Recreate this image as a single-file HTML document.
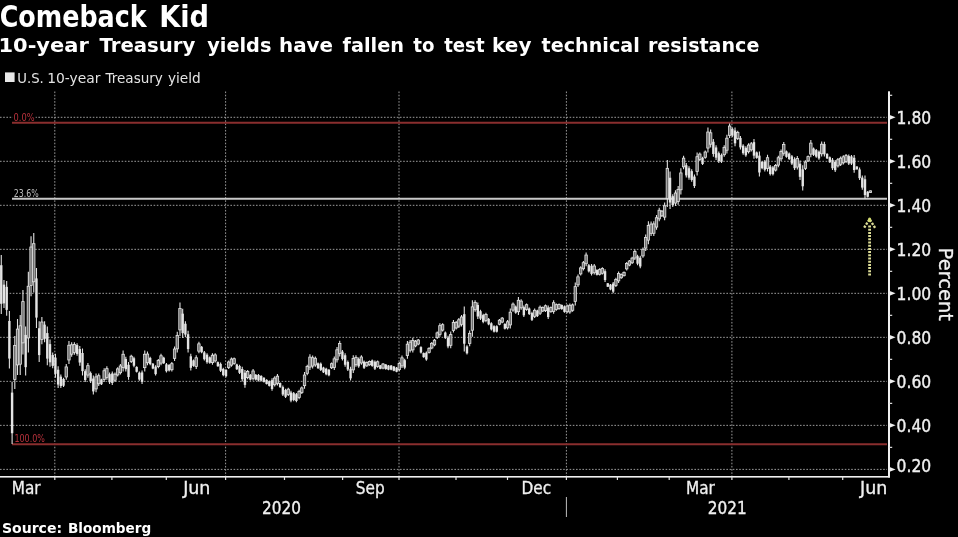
<!DOCTYPE html>
<html><head><meta charset="utf-8"><title>Comeback Kid</title><style>
html,body{margin:0;padding:0;background:#000;}
body{width:958px;height:537px;overflow:hidden;position:relative;font-family:"DejaVu Sans","Liberation Sans",sans-serif;}
</style></head><body>
<svg width="958" height="537" viewBox="0 0 958 537" style="position:absolute;left:0;top:0">
<rect width="958" height="537" fill="#000"/>
<line x1="0" y1="117.30" x2="887" y2="117.30" stroke="#9a9a9a" stroke-width="1" stroke-dasharray="1.6 1.6"/>
<line x1="0" y1="161.31" x2="887" y2="161.31" stroke="#9a9a9a" stroke-width="1" stroke-dasharray="1.6 1.6"/>
<line x1="0" y1="205.32" x2="887" y2="205.32" stroke="#9a9a9a" stroke-width="1" stroke-dasharray="1.6 1.6"/>
<line x1="0" y1="249.33" x2="887" y2="249.33" stroke="#9a9a9a" stroke-width="1" stroke-dasharray="1.6 1.6"/>
<line x1="0" y1="293.34" x2="887" y2="293.34" stroke="#9a9a9a" stroke-width="1" stroke-dasharray="1.6 1.6"/>
<line x1="0" y1="337.35" x2="887" y2="337.35" stroke="#9a9a9a" stroke-width="1" stroke-dasharray="1.6 1.6"/>
<line x1="0" y1="381.36" x2="887" y2="381.36" stroke="#9a9a9a" stroke-width="1" stroke-dasharray="1.6 1.6"/>
<line x1="0" y1="425.37" x2="887" y2="425.37" stroke="#9a9a9a" stroke-width="1" stroke-dasharray="1.6 1.6"/>
<line x1="0" y1="469.38" x2="887" y2="469.38" stroke="#9a9a9a" stroke-width="1" stroke-dasharray="1.6 1.6"/>
<line x1="54.8" y1="91.5" x2="54.8" y2="476" stroke="#9a9a9a" stroke-width="1" stroke-dasharray="1.6 1.6"/>
<line x1="225.6" y1="91.5" x2="225.6" y2="476" stroke="#9a9a9a" stroke-width="1" stroke-dasharray="1.6 1.6"/>
<line x1="399" y1="91.5" x2="399" y2="476" stroke="#9a9a9a" stroke-width="1" stroke-dasharray="1.6 1.6"/>
<line x1="566.4" y1="91.5" x2="566.4" y2="476" stroke="#9a9a9a" stroke-width="1" stroke-dasharray="1.6 1.6"/>
<line x1="731.9" y1="91.5" x2="731.9" y2="476" stroke="#9a9a9a" stroke-width="1" stroke-dasharray="1.6 1.6"/>
<line x1="12" y1="122.8" x2="887" y2="122.8" stroke="#8a2e2e" stroke-width="2"/>
<line x1="12" y1="444.3" x2="887" y2="444.3" stroke="#8a2e2e" stroke-width="2"/>
<line x1="12" y1="198.8" x2="887" y2="198.8" stroke="#c8c8c8" stroke-width="2"/>
<rect x="12.6" y="111.4" width="23" height="9.6" fill="#000"/>
<text x="13.5" y="120.6" font-family="DejaVu Sans Condensed, DejaVu Sans, sans-serif" font-size="11" fill="#b8323c" textLength="21" lengthAdjust="spacingAndGlyphs">0.0%</text>
<text x="13.8" y="196.8" font-family="DejaVu Sans Condensed, DejaVu Sans, sans-serif" font-size="11" fill="#bdbdbd" textLength="25" lengthAdjust="spacingAndGlyphs">23.6%</text>
<text x="14.4" y="442.3" font-family="DejaVu Sans Condensed, DejaVu Sans, sans-serif" font-size="11" fill="#b8323c" textLength="30.5" lengthAdjust="spacingAndGlyphs">100.0%</text>
<path d="M1.27 255.00V314.00M3.98 280.00V308.00M6.68 281.00V315.70M9.39 311.00V368.50M12.10 381.80V444.00M14.81 336.00V389.00M17.52 319.00V375.00M20.22 315.00V375.00M22.93 290.00V354.50M25.64 326.50V375.60M28.35 271.70V352.50M31.05 236.20V296.30M33.76 233.00V292.50M36.47 268.00V328.00M39.18 321.30V362.00M41.88 317.10V344.30M44.59 321.30V342.20M47.30 326.50V365.20M50.01 339.60V366.80M52.71 352.60V368.30M55.42 353.70V377.70M58.13 366.20V388.10M60.84 374.60V388.10M63.54 377.70V387.00M66.25 364.10V379.80M68.96 341.10V364.10M71.67 342.20V356.80M74.37 342.20V354.70M77.08 343.20V355.80M79.79 345.90V365.70M82.50 348.50V375.60M85.21 369.30V381.90M87.91 363.00V377.70M90.62 371.40V382.90M93.33 375.60V394.40M96.04 373.50V392.30M98.74 373.50V386.00M101.45 378.70V385.00M104.16 368.30V381.90M106.87 366.20V379.80M109.57 372.50V383.90M112.28 371.40V385.00M114.99 372.50V381.90M117.70 367.20V376.60M120.40 364.10V374.60M123.11 350.50V371.40M125.82 356.80V371.40M128.53 362.00V379.80M131.23 354.70V363.00M133.94 356.80V367.20M136.65 366.20V372.50M139.36 371.40V380.80M142.06 370.40V383.90M144.77 350.50V371.40M147.48 351.60V365.20M150.19 356.80V365.20M152.90 363.00V369.30M155.60 365.20V375.60M158.31 358.90V368.30M161.02 353.70V365.20M163.73 356.80V364.10M166.43 363.00V372.50M169.14 364.10V371.40M171.85 362.00V371.40M174.56 346.40V361.00M177.26 331.80V352.60M179.97 302.50V335.90M182.68 308.80V338.00M185.39 321.30V337.00M188.09 330.70V352.60M190.80 353.70V370.40M193.51 359.50V366.80M196.22 355.30V368.90M198.92 341.80V353.20M201.63 345.90V353.20M204.34 351.10V360.50M207.05 353.20V363.70M209.75 356.40V363.70M212.46 353.20V364.70M215.17 353.20V362.60M217.88 361.60V366.80M220.59 362.60V372.00M223.29 367.80V376.20M226.00 368.90V377.20M228.71 360.50V368.90M231.42 357.40V366.80M234.12 357.40V364.70M236.83 363.70V370.00M239.54 364.70V374.10M242.25 366.80V381.40M244.95 369.90V387.70M247.66 369.90V379.30M250.37 374.10V380.40M253.08 368.90V380.40M255.78 374.10V380.40M258.49 374.10V381.40M261.20 375.20V381.40M263.91 377.20V382.50M266.61 379.30V384.60M269.32 380.40V386.60M272.03 378.30V390.80M274.74 376.20V386.60M277.44 374.10V385.60M280.15 382.50V387.70M282.86 385.60V396.00M285.57 388.70V398.10M288.28 387.70V396.00M290.98 390.80V402.30M293.69 391.90V401.30M296.40 392.90V402.30M299.11 389.80V399.20M301.81 386.60V393.90M304.52 372.00V388.70M307.23 364.70V375.20M309.94 354.30V369.90M312.64 355.40V368.40M315.35 356.40V366.80M318.06 362.60V368.90M320.77 362.60V371.00M323.47 366.80V373.10M326.18 367.80V375.20M328.89 368.90V376.20M331.60 362.60V368.90M334.30 356.40V370.00M337.01 347.00V362.60M339.72 340.70V356.40M342.43 350.10V360.50M345.13 353.20V366.80M347.84 360.50V371.00M350.55 366.80V380.40M353.26 355.30V373.10M355.97 355.30V366.80M358.67 357.40V367.80M361.38 355.30V364.70M364.09 360.50V368.90M366.80 361.60V366.80M369.50 360.50V365.70M372.21 359.50V366.80M374.92 360.50V370.00M377.63 360.50V367.80M380.33 365.00V369.20M383.04 362.90V369.20M385.75 363.90V369.70M388.46 365.00V370.20M391.16 365.00V370.20M393.87 366.00V371.30M396.58 367.10V372.30M399.29 361.90V371.30M401.99 355.60V368.10M404.70 358.70V369.20M407.41 341.00V358.70M410.12 339.90V352.50M412.82 337.80V352.50M415.53 339.90V347.20M418.24 338.90V345.20M420.95 346.20V353.50M423.66 352.50V357.70M426.36 351.40V360.80M429.07 347.20V353.50M431.78 342.00V349.30M434.49 338.90V346.20M437.19 331.60V338.90M439.90 323.20V336.80M442.61 323.20V331.60M445.32 331.60V338.90M448.02 335.80V348.30M450.73 331.60V348.30M453.44 320.10V332.60M456.15 321.10V329.50M458.85 318.00V327.90M461.56 314.90V326.40M464.27 306.50V351.40M466.98 345.20V354.60M469.68 330.50V346.20M472.39 300.30V336.80M475.10 300.30V311.80M477.81 302.40V319.10M480.51 309.70V320.10M483.22 313.80V323.20M485.93 312.80V322.20M488.64 318.00V325.30M491.35 322.20V330.50M494.05 325.30V332.60M496.76 325.30V332.60M499.47 319.10V325.30M502.18 317.00V323.20M504.88 323.20V329.50M507.59 320.10V329.50M510.30 308.60V328.50M513.01 302.40V311.80M515.71 305.50V313.80M518.42 297.10V314.90M521.13 299.20V309.70M523.84 305.50V317.00M526.54 303.40V310.70M529.25 307.60V314.90M531.96 311.80V321.10M534.67 308.60V318.00M537.37 309.70V317.00M540.08 305.50V314.90M542.79 306.50V312.00M545.50 304.40V312.00M548.20 305.50V319.10M550.91 306.50V312.80M553.62 300.30V313.80M556.33 303.40V310.70M559.04 303.40V309.70M561.74 304.40V309.70M564.45 305.50V312.80M567.16 304.40V313.30M569.87 303.40V313.80M572.57 303.40V311.80M575.28 282.50V305.50M577.99 274.60V287.10M580.70 266.20V275.60M583.40 261.00V270.40M586.11 252.60V266.20M588.82 264.10V272.50M591.53 264.10V275.60M594.23 264.10V274.60M596.94 269.30V275.60M599.65 268.30V275.60M602.36 267.20V274.60M605.06 269.30V281.90M607.77 282.90V287.10M610.48 283.90V290.20M613.19 281.90V293.30M615.89 277.70V287.10M618.60 271.40V282.90M621.31 273.50V278.70M624.02 271.40V276.60M626.73 262.00V270.40M629.43 259.90V266.20M632.14 256.80V264.10M634.85 249.50V259.90M637.56 254.70V265.20M640.26 255.80V268.30M642.97 247.40V257.80M645.68 234.40V251.10M648.39 221.30V244.30M651.09 221.50V235.90M653.80 221.30V235.90M656.51 215.10V229.70M659.22 207.80V221.30M661.92 209.90V217.10M664.63 202.60V220.30M667.34 159.90V206.90M670.05 171.40V208.90M672.75 194.30V206.90M675.46 190.20V205.90M678.17 186.00V204.80M680.88 168.20V194.50M683.58 155.70V169.30M686.29 163.00V177.60M689.00 166.20V179.70M691.71 169.30V181.80M694.42 174.50V188.10M697.12 152.60V175.50M699.83 152.60V160.90M702.54 156.80V165.10M705.25 150.50V158.80M707.95 127.50V152.60M710.66 129.60V147.40M713.37 139.00V156.80M716.08 145.20V159.90M718.78 151.50V163.00M721.49 153.60V163.00M724.20 145.30V156.80M726.91 134.80V153.60M729.61 123.40V138.00M732.32 127.50V136.90M735.03 127.50V146.30M737.74 130.70V140.10M740.44 135.90V149.40M743.15 144.20V154.70M745.86 146.30V156.80M748.57 143.20V153.60M751.27 142.10V151.50M753.98 139.00V158.80M756.69 151.50V158.80M759.40 151.50V176.60M762.11 160.90V169.30M764.81 159.90V171.40M767.52 154.70V171.40M770.23 165.10V175.50M772.94 166.10V175.50M775.64 164.10V171.40M778.35 155.70V167.20M781.06 149.40V160.90M783.77 142.10V155.70M786.47 150.50V157.80M789.18 152.60V159.90M791.89 154.90V165.00M794.60 157.20V170.10M797.30 156.00V169.50M800.01 160.60V179.90M802.72 165.20V190.40M805.43 160.30V170.10M808.13 155.40V162.10M810.84 140.00V157.20M813.55 147.40V156.00M816.26 148.90V157.80M818.96 150.40V159.70M821.67 141.50V156.50M824.38 141.80V156.50M827.09 153.20V159.00M829.80 156.50V163.00M832.50 158.00V170.00M835.21 160.00V172.00M837.92 158.00V167.60M840.63 156.50V166.00M843.33 155.20V164.50M846.04 154.00V163.00M848.75 154.60V165.00M851.46 155.00V165.00M854.16 155.00V172.80M856.87 166.30V169.60M859.58 167.60V180.00M862.29 175.40V189.80M864.99 175.40V198.90M867.70 191.00V197.60M870.41 190.40V193.00" stroke="#e0e0e0" stroke-width="1.1" fill="none"/>
<rect x="0.07" y="265.22" width="2.4" height="38.56" fill="#e4e4e4"/><rect x="2.78" y="284.64" width="2.4" height="18.72" fill="#e4e4e4"/><rect x="5.48" y="286.85" width="2.4" height="23.01" fill="#e4e4e4"/><rect x="8.19" y="320.95" width="2.4" height="37.60" fill="#e4e4e4"/><rect x="10.90" y="392.60" width="2.4" height="40.61" fill="#e4e4e4"/><rect x="13.61" y="345.54" width="2.4" height="33.92" fill="#6e6e6e" stroke="#e4e4e4" stroke-width="0.8"/><rect x="16.32" y="329.08" width="2.4" height="35.84" fill="#6e6e6e" stroke="#e4e4e4" stroke-width="0.8"/><rect x="19.02" y="325.80" width="2.4" height="38.40" fill="#6e6e6e" stroke="#e4e4e4" stroke-width="0.8"/><rect x="21.73" y="301.61" width="2.4" height="41.28" fill="#6e6e6e" stroke="#e4e4e4" stroke-width="0.8"/><rect x="24.44" y="334.94" width="2.4" height="32.22" fill="#e4e4e4"/><rect x="27.15" y="286.24" width="2.4" height="51.71" fill="#6e6e6e" stroke="#e4e4e4" stroke-width="0.8"/><rect x="29.85" y="247.02" width="2.4" height="38.46" fill="#6e6e6e" stroke="#e4e4e4" stroke-width="0.8"/><rect x="32.56" y="243.71" width="2.4" height="38.08" fill="#6e6e6e" stroke="#e4e4e4" stroke-width="0.8"/><rect x="35.27" y="278.40" width="2.4" height="39.20" fill="#e4e4e4"/><rect x="37.98" y="328.23" width="2.4" height="26.85" fill="#e4e4e4"/><rect x="40.68" y="322.00" width="2.4" height="17.41" fill="#6e6e6e" stroke="#e4e4e4" stroke-width="0.8"/><rect x="43.39" y="324.66" width="2.4" height="14.18" fill="#e4e4e4"/><rect x="46.10" y="333.07" width="2.4" height="25.57" fill="#e4e4e4"/><rect x="48.81" y="344.10" width="2.4" height="18.21" fill="#e4e4e4"/><rect x="51.51" y="355.03" width="2.4" height="10.85" fill="#e4e4e4"/><rect x="54.22" y="357.62" width="2.4" height="16.16" fill="#e4e4e4"/><rect x="56.93" y="369.74" width="2.4" height="14.82" fill="#e4e4e4"/><rect x="59.64" y="376.63" width="2.4" height="9.44" fill="#e4e4e4"/><rect x="62.34" y="378.97" width="2.4" height="6.75" fill="#e4e4e4"/><rect x="65.05" y="366.93" width="2.4" height="10.05" fill="#6e6e6e" stroke="#e4e4e4" stroke-width="0.8"/><rect x="67.76" y="345.24" width="2.4" height="14.72" fill="#6e6e6e" stroke="#e4e4e4" stroke-width="0.8"/><rect x="70.47" y="344.83" width="2.4" height="9.34" fill="#6e6e6e" stroke="#e4e4e4" stroke-width="0.8"/><rect x="73.17" y="344.45" width="2.4" height="8.00" fill="#6e6e6e" stroke="#e4e4e4" stroke-width="0.8"/><rect x="75.88" y="345.07" width="2.4" height="8.86" fill="#e4e4e4"/><rect x="78.59" y="349.06" width="2.4" height="13.47" fill="#e4e4e4"/><rect x="81.30" y="352.98" width="2.4" height="18.14" fill="#e4e4e4"/><rect x="84.01" y="371.17" width="2.4" height="8.86" fill="#e4e4e4"/><rect x="86.71" y="365.65" width="2.4" height="9.41" fill="#6e6e6e" stroke="#e4e4e4" stroke-width="0.8"/><rect x="89.42" y="373.07" width="2.4" height="8.16" fill="#e4e4e4"/><rect x="92.13" y="378.58" width="2.4" height="12.83" fill="#e4e4e4"/><rect x="94.84" y="376.88" width="2.4" height="12.03" fill="#6e6e6e" stroke="#e4e4e4" stroke-width="0.8"/><rect x="97.54" y="375.75" width="2.4" height="8.00" fill="#6e6e6e" stroke="#e4e4e4" stroke-width="0.8"/><rect x="100.25" y="379.43" width="2.4" height="4.83" fill="#e4e4e4"/><rect x="102.96" y="370.75" width="2.4" height="8.70" fill="#6e6e6e" stroke="#e4e4e4" stroke-width="0.8"/><rect x="105.67" y="368.65" width="2.4" height="8.70" fill="#6e6e6e" stroke="#e4e4e4" stroke-width="0.8"/><rect x="108.37" y="374.15" width="2.4" height="8.10" fill="#e4e4e4"/><rect x="111.08" y="373.45" width="2.4" height="9.50" fill="#e4e4e4"/><rect x="113.79" y="374.19" width="2.4" height="6.02" fill="#6e6e6e" stroke="#e4e4e4" stroke-width="0.8"/><rect x="116.50" y="368.89" width="2.4" height="6.02" fill="#6e6e6e" stroke="#e4e4e4" stroke-width="0.8"/><rect x="119.20" y="365.99" width="2.4" height="6.72" fill="#6e6e6e" stroke="#e4e4e4" stroke-width="0.8"/><rect x="121.91" y="354.26" width="2.4" height="13.38" fill="#6e6e6e" stroke="#e4e4e4" stroke-width="0.8"/><rect x="124.62" y="359.03" width="2.4" height="10.14" fill="#e4e4e4"/><rect x="127.33" y="364.80" width="2.4" height="12.19" fill="#e4e4e4"/><rect x="130.03" y="356.19" width="2.4" height="5.31" fill="#6e6e6e" stroke="#e4e4e4" stroke-width="0.8"/><rect x="132.74" y="358.27" width="2.4" height="7.46" fill="#e4e4e4"/><rect x="135.45" y="366.93" width="2.4" height="4.83" fill="#e4e4e4"/><rect x="138.16" y="372.69" width="2.4" height="6.82" fill="#e4e4e4"/><rect x="140.86" y="372.43" width="2.4" height="9.44" fill="#e4e4e4"/><rect x="143.57" y="354.26" width="2.4" height="13.38" fill="#6e6e6e" stroke="#e4e4e4" stroke-width="0.8"/><rect x="146.28" y="354.05" width="2.4" height="8.70" fill="#6e6e6e" stroke="#e4e4e4" stroke-width="0.8"/><rect x="148.99" y="357.91" width="2.4" height="6.18" fill="#e4e4e4"/><rect x="151.70" y="363.73" width="2.4" height="4.83" fill="#e4e4e4"/><rect x="154.40" y="366.67" width="2.4" height="7.46" fill="#e4e4e4"/><rect x="157.11" y="360.59" width="2.4" height="6.02" fill="#6e6e6e" stroke="#e4e4e4" stroke-width="0.8"/><rect x="159.82" y="355.77" width="2.4" height="7.36" fill="#6e6e6e" stroke="#e4e4e4" stroke-width="0.8"/><rect x="162.53" y="357.71" width="2.4" height="5.47" fill="#e4e4e4"/><rect x="165.23" y="364.31" width="2.4" height="6.88" fill="#e4e4e4"/><rect x="167.94" y="365.01" width="2.4" height="5.47" fill="#e4e4e4"/><rect x="170.65" y="363.69" width="2.4" height="6.02" fill="#6e6e6e" stroke="#e4e4e4" stroke-width="0.8"/><rect x="173.36" y="349.03" width="2.4" height="9.34" fill="#6e6e6e" stroke="#e4e4e4" stroke-width="0.8"/><rect x="176.06" y="335.54" width="2.4" height="13.31" fill="#6e6e6e" stroke="#e4e4e4" stroke-width="0.8"/><rect x="178.77" y="308.51" width="2.4" height="21.38" fill="#6e6e6e" stroke="#e4e4e4" stroke-width="0.8"/><rect x="181.48" y="313.66" width="2.4" height="19.49" fill="#e4e4e4"/><rect x="184.19" y="323.73" width="2.4" height="10.85" fill="#e4e4e4"/><rect x="186.89" y="334.24" width="2.4" height="14.82" fill="#e4e4e4"/><rect x="189.60" y="356.31" width="2.4" height="11.49" fill="#e4e4e4"/><rect x="192.31" y="360.41" width="2.4" height="5.47" fill="#e4e4e4"/><rect x="195.02" y="357.75" width="2.4" height="8.70" fill="#6e6e6e" stroke="#e4e4e4" stroke-width="0.8"/><rect x="197.72" y="343.85" width="2.4" height="7.30" fill="#6e6e6e" stroke="#e4e4e4" stroke-width="0.8"/><rect x="200.43" y="346.81" width="2.4" height="5.47" fill="#e4e4e4"/><rect x="203.14" y="352.39" width="2.4" height="6.82" fill="#e4e4e4"/><rect x="205.85" y="354.69" width="2.4" height="7.52" fill="#e4e4e4"/><rect x="208.55" y="357.31" width="2.4" height="5.47" fill="#e4e4e4"/><rect x="211.26" y="355.27" width="2.4" height="7.36" fill="#6e6e6e" stroke="#e4e4e4" stroke-width="0.8"/><rect x="213.97" y="354.89" width="2.4" height="6.02" fill="#6e6e6e" stroke="#e4e4e4" stroke-width="0.8"/><rect x="216.68" y="362.14" width="2.4" height="4.13" fill="#e4e4e4"/><rect x="219.39" y="363.89" width="2.4" height="6.82" fill="#e4e4e4"/><rect x="222.09" y="368.91" width="2.4" height="6.18" fill="#e4e4e4"/><rect x="224.80" y="369.99" width="2.4" height="6.11" fill="#e4e4e4"/><rect x="227.51" y="362.01" width="2.4" height="5.38" fill="#6e6e6e" stroke="#e4e4e4" stroke-width="0.8"/><rect x="230.22" y="359.09" width="2.4" height="6.02" fill="#6e6e6e" stroke="#e4e4e4" stroke-width="0.8"/><rect x="232.92" y="358.71" width="2.4" height="4.67" fill="#6e6e6e" stroke="#e4e4e4" stroke-width="0.8"/><rect x="235.63" y="364.43" width="2.4" height="4.83" fill="#e4e4e4"/><rect x="238.34" y="365.99" width="2.4" height="6.82" fill="#e4e4e4"/><rect x="241.05" y="369.03" width="2.4" height="10.14" fill="#e4e4e4"/><rect x="243.75" y="372.70" width="2.4" height="12.19" fill="#e4e4e4"/><rect x="246.46" y="371.59" width="2.4" height="6.02" fill="#6e6e6e" stroke="#e4e4e4" stroke-width="0.8"/><rect x="249.17" y="374.83" width="2.4" height="4.83" fill="#e4e4e4"/><rect x="251.88" y="370.97" width="2.4" height="7.36" fill="#6e6e6e" stroke="#e4e4e4" stroke-width="0.8"/><rect x="254.58" y="374.83" width="2.4" height="4.83" fill="#e4e4e4"/><rect x="257.29" y="375.01" width="2.4" height="5.47" fill="#e4e4e4"/><rect x="260.00" y="375.92" width="2.4" height="4.77" fill="#e4e4e4"/><rect x="262.71" y="377.75" width="2.4" height="4.19" fill="#e4e4e4"/><rect x="265.41" y="379.85" width="2.4" height="4.19" fill="#e4e4e4"/><rect x="268.12" y="381.12" width="2.4" height="4.77" fill="#e4e4e4"/><rect x="270.83" y="380.15" width="2.4" height="8.80" fill="#e4e4e4"/><rect x="273.54" y="378.07" width="2.4" height="6.66" fill="#6e6e6e" stroke="#e4e4e4" stroke-width="0.8"/><rect x="276.24" y="376.17" width="2.4" height="7.36" fill="#6e6e6e" stroke="#e4e4e4" stroke-width="0.8"/><rect x="278.95" y="383.04" width="2.4" height="4.13" fill="#e4e4e4"/><rect x="281.66" y="387.07" width="2.4" height="7.46" fill="#e4e4e4"/><rect x="284.37" y="389.99" width="2.4" height="6.82" fill="#e4e4e4"/><rect x="287.08" y="389.19" width="2.4" height="5.31" fill="#6e6e6e" stroke="#e4e4e4" stroke-width="0.8"/><rect x="289.78" y="392.47" width="2.4" height="8.16" fill="#e4e4e4"/><rect x="292.49" y="393.19" width="2.4" height="6.82" fill="#e4e4e4"/><rect x="295.20" y="394.19" width="2.4" height="6.82" fill="#e4e4e4"/><rect x="297.91" y="391.49" width="2.4" height="6.02" fill="#6e6e6e" stroke="#e4e4e4" stroke-width="0.8"/><rect x="300.61" y="387.91" width="2.4" height="4.67" fill="#6e6e6e" stroke="#e4e4e4" stroke-width="0.8"/><rect x="303.32" y="375.01" width="2.4" height="10.69" fill="#6e6e6e" stroke="#e4e4e4" stroke-width="0.8"/><rect x="306.03" y="366.59" width="2.4" height="6.72" fill="#6e6e6e" stroke="#e4e4e4" stroke-width="0.8"/><rect x="308.74" y="357.11" width="2.4" height="9.98" fill="#6e6e6e" stroke="#e4e4e4" stroke-width="0.8"/><rect x="311.44" y="357.74" width="2.4" height="8.32" fill="#6e6e6e" stroke="#e4e4e4" stroke-width="0.8"/><rect x="314.15" y="358.27" width="2.4" height="6.66" fill="#6e6e6e" stroke="#e4e4e4" stroke-width="0.8"/><rect x="316.86" y="363.33" width="2.4" height="4.83" fill="#e4e4e4"/><rect x="319.57" y="363.71" width="2.4" height="6.18" fill="#e4e4e4"/><rect x="322.27" y="367.53" width="2.4" height="4.83" fill="#e4e4e4"/><rect x="324.98" y="368.73" width="2.4" height="5.54" fill="#e4e4e4"/><rect x="327.69" y="369.81" width="2.4" height="5.47" fill="#e4e4e4"/><rect x="330.40" y="363.73" width="2.4" height="4.03" fill="#6e6e6e" stroke="#e4e4e4" stroke-width="0.8"/><rect x="333.10" y="358.85" width="2.4" height="8.70" fill="#6e6e6e" stroke="#e4e4e4" stroke-width="0.8"/><rect x="335.81" y="349.81" width="2.4" height="9.98" fill="#6e6e6e" stroke="#e4e4e4" stroke-width="0.8"/><rect x="338.52" y="343.53" width="2.4" height="10.05" fill="#6e6e6e" stroke="#e4e4e4" stroke-width="0.8"/><rect x="341.23" y="351.57" width="2.4" height="7.46" fill="#e4e4e4"/><rect x="343.93" y="355.25" width="2.4" height="9.50" fill="#e4e4e4"/><rect x="346.64" y="361.99" width="2.4" height="7.52" fill="#e4e4e4"/><rect x="349.35" y="368.85" width="2.4" height="9.50" fill="#e4e4e4"/><rect x="352.06" y="358.50" width="2.4" height="11.39" fill="#6e6e6e" stroke="#e4e4e4" stroke-width="0.8"/><rect x="354.77" y="357.37" width="2.4" height="7.36" fill="#6e6e6e" stroke="#e4e4e4" stroke-width="0.8"/><rect x="357.47" y="358.87" width="2.4" height="7.46" fill="#e4e4e4"/><rect x="360.18" y="356.99" width="2.4" height="6.02" fill="#6e6e6e" stroke="#e4e4e4" stroke-width="0.8"/><rect x="362.89" y="361.61" width="2.4" height="6.18" fill="#e4e4e4"/><rect x="365.60" y="362.54" width="2.4" height="3.33" fill="#6e6e6e" stroke="#e4e4e4" stroke-width="0.8"/><rect x="368.30" y="361.44" width="2.4" height="3.33" fill="#6e6e6e" stroke="#e4e4e4" stroke-width="0.8"/><rect x="371.01" y="360.41" width="2.4" height="5.47" fill="#e4e4e4"/><rect x="373.72" y="361.81" width="2.4" height="6.88" fill="#e4e4e4"/><rect x="376.43" y="361.81" width="2.4" height="4.67" fill="#6e6e6e" stroke="#e4e4e4" stroke-width="0.8"/><rect x="379.13" y="365.36" width="2.4" height="3.49" fill="#e4e4e4"/><rect x="381.84" y="364.03" width="2.4" height="4.03" fill="#6e6e6e" stroke="#e4e4e4" stroke-width="0.8"/><rect x="384.55" y="364.54" width="2.4" height="4.51" fill="#e4e4e4"/><rect x="387.26" y="365.54" width="2.4" height="4.13" fill="#e4e4e4"/><rect x="389.96" y="365.54" width="2.4" height="4.13" fill="#e4e4e4"/><rect x="392.67" y="366.55" width="2.4" height="4.19" fill="#e4e4e4"/><rect x="395.38" y="367.64" width="2.4" height="4.13" fill="#e4e4e4"/><rect x="398.09" y="363.59" width="2.4" height="6.02" fill="#6e6e6e" stroke="#e4e4e4" stroke-width="0.8"/><rect x="400.79" y="357.85" width="2.4" height="8.00" fill="#6e6e6e" stroke="#e4e4e4" stroke-width="0.8"/><rect x="403.50" y="360.19" width="2.4" height="7.52" fill="#e4e4e4"/><rect x="406.21" y="344.19" width="2.4" height="11.33" fill="#6e6e6e" stroke="#e4e4e4" stroke-width="0.8"/><rect x="408.92" y="342.17" width="2.4" height="8.06" fill="#6e6e6e" stroke="#e4e4e4" stroke-width="0.8"/><rect x="411.62" y="340.45" width="2.4" height="9.41" fill="#6e6e6e" stroke="#e4e4e4" stroke-width="0.8"/><rect x="414.33" y="341.21" width="2.4" height="4.67" fill="#6e6e6e" stroke="#e4e4e4" stroke-width="0.8"/><rect x="417.04" y="340.03" width="2.4" height="4.03" fill="#6e6e6e" stroke="#e4e4e4" stroke-width="0.8"/><rect x="419.75" y="347.11" width="2.4" height="5.47" fill="#e4e4e4"/><rect x="422.46" y="353.04" width="2.4" height="4.13" fill="#e4e4e4"/><rect x="425.16" y="352.69" width="2.4" height="6.82" fill="#e4e4e4"/><rect x="427.87" y="348.33" width="2.4" height="4.03" fill="#6e6e6e" stroke="#e4e4e4" stroke-width="0.8"/><rect x="430.58" y="343.31" width="2.4" height="4.67" fill="#6e6e6e" stroke="#e4e4e4" stroke-width="0.8"/><rect x="433.29" y="340.21" width="2.4" height="4.67" fill="#6e6e6e" stroke="#e4e4e4" stroke-width="0.8"/><rect x="435.99" y="332.91" width="2.4" height="4.67" fill="#6e6e6e" stroke="#e4e4e4" stroke-width="0.8"/><rect x="438.70" y="325.65" width="2.4" height="8.70" fill="#6e6e6e" stroke="#e4e4e4" stroke-width="0.8"/><rect x="441.41" y="324.71" width="2.4" height="5.38" fill="#6e6e6e" stroke="#e4e4e4" stroke-width="0.8"/><rect x="444.12" y="332.51" width="2.4" height="5.47" fill="#e4e4e4"/><rect x="446.82" y="337.65" width="2.4" height="8.80" fill="#e4e4e4"/><rect x="449.53" y="334.61" width="2.4" height="10.69" fill="#6e6e6e" stroke="#e4e4e4" stroke-width="0.8"/><rect x="452.24" y="322.35" width="2.4" height="8.00" fill="#6e6e6e" stroke="#e4e4e4" stroke-width="0.8"/><rect x="454.95" y="322.61" width="2.4" height="5.38" fill="#6e6e6e" stroke="#e4e4e4" stroke-width="0.8"/><rect x="457.65" y="319.78" width="2.4" height="6.34" fill="#6e6e6e" stroke="#e4e4e4" stroke-width="0.8"/><rect x="460.36" y="316.97" width="2.4" height="7.36" fill="#6e6e6e" stroke="#e4e4e4" stroke-width="0.8"/><rect x="463.07" y="314.18" width="2.4" height="29.54" fill="#e4e4e4"/><rect x="465.78" y="346.49" width="2.4" height="6.82" fill="#e4e4e4"/><rect x="468.48" y="333.33" width="2.4" height="10.05" fill="#6e6e6e" stroke="#e4e4e4" stroke-width="0.8"/><rect x="471.19" y="306.87" width="2.4" height="23.36" fill="#6e6e6e" stroke="#e4e4e4" stroke-width="0.8"/><rect x="473.90" y="302.37" width="2.4" height="7.36" fill="#6e6e6e" stroke="#e4e4e4" stroke-width="0.8"/><rect x="476.61" y="305.01" width="2.4" height="11.49" fill="#e4e4e4"/><rect x="479.31" y="311.17" width="2.4" height="7.46" fill="#e4e4e4"/><rect x="482.02" y="315.09" width="2.4" height="6.82" fill="#e4e4e4"/><rect x="484.73" y="314.49" width="2.4" height="6.02" fill="#6e6e6e" stroke="#e4e4e4" stroke-width="0.8"/><rect x="487.44" y="318.91" width="2.4" height="5.47" fill="#e4e4e4"/><rect x="490.15" y="323.29" width="2.4" height="6.11" fill="#e4e4e4"/><rect x="492.85" y="326.21" width="2.4" height="5.47" fill="#e4e4e4"/><rect x="495.56" y="326.21" width="2.4" height="5.47" fill="#e4e4e4"/><rect x="498.27" y="320.22" width="2.4" height="3.97" fill="#6e6e6e" stroke="#e4e4e4" stroke-width="0.8"/><rect x="500.98" y="318.12" width="2.4" height="3.97" fill="#6e6e6e" stroke="#e4e4e4" stroke-width="0.8"/><rect x="503.68" y="323.93" width="2.4" height="4.83" fill="#e4e4e4"/><rect x="506.39" y="321.79" width="2.4" height="6.02" fill="#6e6e6e" stroke="#e4e4e4" stroke-width="0.8"/><rect x="509.10" y="312.18" width="2.4" height="12.74" fill="#6e6e6e" stroke="#e4e4e4" stroke-width="0.8"/><rect x="511.81" y="304.09" width="2.4" height="6.02" fill="#6e6e6e" stroke="#e4e4e4" stroke-width="0.8"/><rect x="514.51" y="306.59" width="2.4" height="6.11" fill="#e4e4e4"/><rect x="517.22" y="300.30" width="2.4" height="11.39" fill="#6e6e6e" stroke="#e4e4e4" stroke-width="0.8"/><rect x="519.93" y="301.09" width="2.4" height="6.72" fill="#6e6e6e" stroke="#e4e4e4" stroke-width="0.8"/><rect x="522.64" y="307.17" width="2.4" height="8.16" fill="#e4e4e4"/><rect x="525.34" y="304.71" width="2.4" height="4.67" fill="#6e6e6e" stroke="#e4e4e4" stroke-width="0.8"/><rect x="528.05" y="308.51" width="2.4" height="5.47" fill="#e4e4e4"/><rect x="530.76" y="313.07" width="2.4" height="6.75" fill="#e4e4e4"/><rect x="533.47" y="310.29" width="2.4" height="6.02" fill="#6e6e6e" stroke="#e4e4e4" stroke-width="0.8"/><rect x="536.17" y="310.61" width="2.4" height="5.47" fill="#e4e4e4"/><rect x="538.88" y="307.19" width="2.4" height="6.02" fill="#6e6e6e" stroke="#e4e4e4" stroke-width="0.8"/><rect x="541.59" y="307.49" width="2.4" height="3.52" fill="#6e6e6e" stroke="#e4e4e4" stroke-width="0.8"/><rect x="544.30" y="305.77" width="2.4" height="4.86" fill="#6e6e6e" stroke="#e4e4e4" stroke-width="0.8"/><rect x="547.00" y="307.55" width="2.4" height="9.50" fill="#e4e4e4"/><rect x="549.71" y="307.63" width="2.4" height="4.03" fill="#6e6e6e" stroke="#e4e4e4" stroke-width="0.8"/><rect x="552.42" y="302.73" width="2.4" height="8.64" fill="#6e6e6e" stroke="#e4e4e4" stroke-width="0.8"/><rect x="555.13" y="304.71" width="2.4" height="4.67" fill="#6e6e6e" stroke="#e4e4e4" stroke-width="0.8"/><rect x="557.84" y="304.53" width="2.4" height="4.03" fill="#6e6e6e" stroke="#e4e4e4" stroke-width="0.8"/><rect x="560.54" y="304.95" width="2.4" height="4.19" fill="#e4e4e4"/><rect x="563.25" y="306.41" width="2.4" height="5.47" fill="#e4e4e4"/><rect x="565.96" y="306.00" width="2.4" height="5.70" fill="#6e6e6e" stroke="#e4e4e4" stroke-width="0.8"/><rect x="568.67" y="305.27" width="2.4" height="6.66" fill="#6e6e6e" stroke="#e4e4e4" stroke-width="0.8"/><rect x="571.37" y="304.91" width="2.4" height="5.38" fill="#6e6e6e" stroke="#e4e4e4" stroke-width="0.8"/><rect x="574.08" y="286.64" width="2.4" height="14.72" fill="#6e6e6e" stroke="#e4e4e4" stroke-width="0.8"/><rect x="576.79" y="276.85" width="2.4" height="8.00" fill="#6e6e6e" stroke="#e4e4e4" stroke-width="0.8"/><rect x="579.50" y="267.89" width="2.4" height="6.02" fill="#6e6e6e" stroke="#e4e4e4" stroke-width="0.8"/><rect x="582.20" y="262.69" width="2.4" height="6.02" fill="#6e6e6e" stroke="#e4e4e4" stroke-width="0.8"/><rect x="584.91" y="255.05" width="2.4" height="8.70" fill="#6e6e6e" stroke="#e4e4e4" stroke-width="0.8"/><rect x="587.62" y="265.21" width="2.4" height="6.18" fill="#e4e4e4"/><rect x="590.33" y="265.77" width="2.4" height="8.16" fill="#e4e4e4"/><rect x="593.03" y="265.99" width="2.4" height="6.72" fill="#6e6e6e" stroke="#e4e4e4" stroke-width="0.8"/><rect x="595.74" y="270.03" width="2.4" height="4.83" fill="#e4e4e4"/><rect x="598.45" y="269.61" width="2.4" height="4.67" fill="#6e6e6e" stroke="#e4e4e4" stroke-width="0.8"/><rect x="601.16" y="268.53" width="2.4" height="4.74" fill="#6e6e6e" stroke="#e4e4e4" stroke-width="0.8"/><rect x="603.86" y="271.17" width="2.4" height="8.86" fill="#e4e4e4"/><rect x="606.57" y="283.26" width="2.4" height="3.49" fill="#e4e4e4"/><rect x="609.28" y="284.63" width="2.4" height="4.83" fill="#e4e4e4"/><rect x="611.99" y="283.55" width="2.4" height="8.10" fill="#e4e4e4"/><rect x="614.69" y="279.39" width="2.4" height="6.02" fill="#6e6e6e" stroke="#e4e4e4" stroke-width="0.8"/><rect x="617.40" y="273.47" width="2.4" height="7.36" fill="#6e6e6e" stroke="#e4e4e4" stroke-width="0.8"/><rect x="620.11" y="274.44" width="2.4" height="3.33" fill="#6e6e6e" stroke="#e4e4e4" stroke-width="0.8"/><rect x="622.82" y="272.34" width="2.4" height="3.33" fill="#6e6e6e" stroke="#e4e4e4" stroke-width="0.8"/><rect x="625.53" y="263.51" width="2.4" height="5.38" fill="#6e6e6e" stroke="#e4e4e4" stroke-width="0.8"/><rect x="628.23" y="261.03" width="2.4" height="4.03" fill="#6e6e6e" stroke="#e4e4e4" stroke-width="0.8"/><rect x="630.94" y="258.11" width="2.4" height="4.67" fill="#6e6e6e" stroke="#e4e4e4" stroke-width="0.8"/><rect x="633.65" y="251.37" width="2.4" height="6.66" fill="#6e6e6e" stroke="#e4e4e4" stroke-width="0.8"/><rect x="636.36" y="256.19" width="2.4" height="7.52" fill="#e4e4e4"/><rect x="639.06" y="257.65" width="2.4" height="8.80" fill="#e4e4e4"/><rect x="641.77" y="249.27" width="2.4" height="6.66" fill="#6e6e6e" stroke="#e4e4e4" stroke-width="0.8"/><rect x="644.48" y="237.41" width="2.4" height="10.69" fill="#6e6e6e" stroke="#e4e4e4" stroke-width="0.8"/><rect x="647.19" y="225.44" width="2.4" height="14.72" fill="#6e6e6e" stroke="#e4e4e4" stroke-width="0.8"/><rect x="649.89" y="224.09" width="2.4" height="9.22" fill="#6e6e6e" stroke="#e4e4e4" stroke-width="0.8"/><rect x="652.60" y="223.93" width="2.4" height="9.34" fill="#6e6e6e" stroke="#e4e4e4" stroke-width="0.8"/><rect x="655.31" y="217.73" width="2.4" height="9.34" fill="#6e6e6e" stroke="#e4e4e4" stroke-width="0.8"/><rect x="658.02" y="210.23" width="2.4" height="8.64" fill="#6e6e6e" stroke="#e4e4e4" stroke-width="0.8"/><rect x="660.72" y="211.20" width="2.4" height="4.61" fill="#6e6e6e" stroke="#e4e4e4" stroke-width="0.8"/><rect x="663.43" y="205.79" width="2.4" height="11.33" fill="#6e6e6e" stroke="#e4e4e4" stroke-width="0.8"/><rect x="666.14" y="168.36" width="2.4" height="30.08" fill="#6e6e6e" stroke="#e4e4e4" stroke-width="0.8"/><rect x="668.85" y="177.75" width="2.4" height="24.80" fill="#e4e4e4"/><rect x="671.55" y="196.17" width="2.4" height="8.86" fill="#e4e4e4"/><rect x="674.26" y="193.03" width="2.4" height="10.05" fill="#6e6e6e" stroke="#e4e4e4" stroke-width="0.8"/><rect x="676.97" y="189.38" width="2.4" height="12.03" fill="#6e6e6e" stroke="#e4e4e4" stroke-width="0.8"/><rect x="679.68" y="172.93" width="2.4" height="16.83" fill="#6e6e6e" stroke="#e4e4e4" stroke-width="0.8"/><rect x="682.38" y="158.15" width="2.4" height="8.70" fill="#6e6e6e" stroke="#e4e4e4" stroke-width="0.8"/><rect x="685.09" y="165.23" width="2.4" height="10.14" fill="#e4e4e4"/><rect x="687.80" y="168.23" width="2.4" height="9.44" fill="#e4e4e4"/><rect x="690.51" y="171.15" width="2.4" height="8.80" fill="#e4e4e4"/><rect x="693.22" y="176.55" width="2.4" height="9.50" fill="#e4e4e4"/><rect x="695.92" y="156.72" width="2.4" height="14.66" fill="#6e6e6e" stroke="#e4e4e4" stroke-width="0.8"/><rect x="698.63" y="154.09" width="2.4" height="5.31" fill="#6e6e6e" stroke="#e4e4e4" stroke-width="0.8"/><rect x="701.34" y="157.89" width="2.4" height="6.11" fill="#e4e4e4"/><rect x="704.05" y="151.99" width="2.4" height="5.31" fill="#6e6e6e" stroke="#e4e4e4" stroke-width="0.8"/><rect x="706.75" y="132.02" width="2.4" height="16.06" fill="#6e6e6e" stroke="#e4e4e4" stroke-width="0.8"/><rect x="709.46" y="132.80" width="2.4" height="11.39" fill="#6e6e6e" stroke="#e4e4e4" stroke-width="0.8"/><rect x="712.17" y="141.80" width="2.4" height="12.19" fill="#e4e4e4"/><rect x="714.88" y="147.45" width="2.4" height="10.21" fill="#e4e4e4"/><rect x="717.58" y="153.17" width="2.4" height="8.16" fill="#e4e4e4"/><rect x="720.29" y="154.89" width="2.4" height="6.82" fill="#e4e4e4"/><rect x="723.00" y="147.37" width="2.4" height="7.36" fill="#6e6e6e" stroke="#e4e4e4" stroke-width="0.8"/><rect x="725.71" y="138.18" width="2.4" height="12.03" fill="#6e6e6e" stroke="#e4e4e4" stroke-width="0.8"/><rect x="728.41" y="126.03" width="2.4" height="9.34" fill="#6e6e6e" stroke="#e4e4e4" stroke-width="0.8"/><rect x="731.12" y="128.79" width="2.4" height="6.82" fill="#e4e4e4"/><rect x="733.83" y="130.48" width="2.4" height="12.83" fill="#e4e4e4"/><rect x="736.54" y="132.39" width="2.4" height="6.02" fill="#6e6e6e" stroke="#e4e4e4" stroke-width="0.8"/><rect x="739.24" y="137.93" width="2.4" height="9.44" fill="#e4e4e4"/><rect x="741.95" y="145.69" width="2.4" height="7.52" fill="#e4e4e4"/><rect x="744.66" y="147.79" width="2.4" height="7.52" fill="#e4e4e4"/><rect x="747.37" y="145.07" width="2.4" height="6.66" fill="#6e6e6e" stroke="#e4e4e4" stroke-width="0.8"/><rect x="750.07" y="143.79" width="2.4" height="6.02" fill="#6e6e6e" stroke="#e4e4e4" stroke-width="0.8"/><rect x="752.78" y="142.16" width="2.4" height="13.47" fill="#e4e4e4"/><rect x="755.49" y="152.41" width="2.4" height="5.47" fill="#e4e4e4"/><rect x="758.20" y="155.62" width="2.4" height="16.86" fill="#e4e4e4"/><rect x="760.91" y="162.01" width="2.4" height="6.18" fill="#e4e4e4"/><rect x="763.61" y="161.57" width="2.4" height="8.16" fill="#e4e4e4"/><rect x="766.32" y="157.71" width="2.4" height="10.69" fill="#6e6e6e" stroke="#e4e4e4" stroke-width="0.8"/><rect x="769.03" y="166.57" width="2.4" height="7.46" fill="#e4e4e4"/><rect x="771.74" y="167.39" width="2.4" height="6.82" fill="#e4e4e4"/><rect x="774.44" y="165.41" width="2.4" height="4.67" fill="#6e6e6e" stroke="#e4e4e4" stroke-width="0.8"/><rect x="777.15" y="157.77" width="2.4" height="7.36" fill="#6e6e6e" stroke="#e4e4e4" stroke-width="0.8"/><rect x="779.86" y="151.47" width="2.4" height="7.36" fill="#6e6e6e" stroke="#e4e4e4" stroke-width="0.8"/><rect x="782.57" y="144.55" width="2.4" height="8.70" fill="#6e6e6e" stroke="#e4e4e4" stroke-width="0.8"/><rect x="785.27" y="151.41" width="2.4" height="5.47" fill="#e4e4e4"/><rect x="787.98" y="153.51" width="2.4" height="5.47" fill="#e4e4e4"/><rect x="790.69" y="156.32" width="2.4" height="7.26" fill="#e4e4e4"/><rect x="793.40" y="159.12" width="2.4" height="9.06" fill="#e4e4e4"/><rect x="796.10" y="158.43" width="2.4" height="8.64" fill="#6e6e6e" stroke="#e4e4e4" stroke-width="0.8"/><rect x="798.81" y="163.67" width="2.4" height="13.15" fill="#e4e4e4"/><rect x="801.52" y="169.34" width="2.4" height="16.93" fill="#e4e4e4"/><rect x="804.23" y="162.06" width="2.4" height="6.27" fill="#6e6e6e" stroke="#e4e4e4" stroke-width="0.8"/><rect x="806.93" y="156.61" width="2.4" height="4.29" fill="#6e6e6e" stroke="#e4e4e4" stroke-width="0.8"/><rect x="809.64" y="143.10" width="2.4" height="11.01" fill="#6e6e6e" stroke="#e4e4e4" stroke-width="0.8"/><rect x="812.35" y="148.55" width="2.4" height="6.30" fill="#e4e4e4"/><rect x="815.06" y="150.10" width="2.4" height="6.50" fill="#e4e4e4"/><rect x="817.76" y="151.67" width="2.4" height="6.75" fill="#e4e4e4"/><rect x="820.47" y="144.20" width="2.4" height="9.60" fill="#6e6e6e" stroke="#e4e4e4" stroke-width="0.8"/><rect x="823.18" y="144.05" width="2.4" height="10.21" fill="#e4e4e4"/><rect x="825.89" y="153.84" width="2.4" height="4.51" fill="#e4e4e4"/><rect x="828.60" y="157.27" width="2.4" height="4.96" fill="#e4e4e4"/><rect x="831.30" y="159.76" width="2.4" height="8.48" fill="#e4e4e4"/><rect x="834.01" y="161.76" width="2.4" height="8.48" fill="#e4e4e4"/><rect x="836.72" y="159.73" width="2.4" height="6.14" fill="#6e6e6e" stroke="#e4e4e4" stroke-width="0.8"/><rect x="839.43" y="158.21" width="2.4" height="6.08" fill="#6e6e6e" stroke="#e4e4e4" stroke-width="0.8"/><rect x="842.13" y="156.87" width="2.4" height="5.95" fill="#6e6e6e" stroke="#e4e4e4" stroke-width="0.8"/><rect x="844.84" y="155.62" width="2.4" height="5.76" fill="#6e6e6e" stroke="#e4e4e4" stroke-width="0.8"/><rect x="847.55" y="156.07" width="2.4" height="7.46" fill="#e4e4e4"/><rect x="850.26" y="156.40" width="2.4" height="7.20" fill="#e4e4e4"/><rect x="852.96" y="157.80" width="2.4" height="12.19" fill="#e4e4e4"/><rect x="855.67" y="166.49" width="2.4" height="2.91" fill="#e4e4e4"/><rect x="858.38" y="169.43" width="2.4" height="8.74" fill="#e4e4e4"/><rect x="861.09" y="177.59" width="2.4" height="10.02" fill="#e4e4e4"/><rect x="863.79" y="179.23" width="2.4" height="15.84" fill="#e4e4e4"/><rect x="866.50" y="191.79" width="2.4" height="5.02" fill="#e4e4e4"/><rect x="869.21" y="190.87" width="2.4" height="1.66" fill="#6e6e6e" stroke="#e4e4e4" stroke-width="0.8"/>
<rect x="888" y="91.3" width="2" height="386.2" fill="#f0f0f0"/>
<rect x="0" y="476" width="890" height="1.6" fill="#f0f0f0"/>
<path d="M889 114.70 L895.6 117.30 L889 119.90 Z" fill="#f0f0f0"/>
<text x="896.6" y="123.50" font-family="DejaVu Sans Condensed, DejaVu Sans, sans-serif" font-size="17.3" fill="#f0f0f0" stroke="#f0f0f0" stroke-width="0.35">1.80</text>
<path d="M889 158.71 L895.6 161.31 L889 163.91 Z" fill="#f0f0f0"/>
<text x="896.6" y="167.51" font-family="DejaVu Sans Condensed, DejaVu Sans, sans-serif" font-size="17.3" fill="#f0f0f0" stroke="#f0f0f0" stroke-width="0.35">1.60</text>
<path d="M889 202.72 L895.6 205.32 L889 207.92 Z" fill="#f0f0f0"/>
<text x="896.6" y="211.52" font-family="DejaVu Sans Condensed, DejaVu Sans, sans-serif" font-size="17.3" fill="#f0f0f0" stroke="#f0f0f0" stroke-width="0.35">1.40</text>
<path d="M889 246.73 L895.6 249.33 L889 251.93 Z" fill="#f0f0f0"/>
<text x="896.6" y="255.53" font-family="DejaVu Sans Condensed, DejaVu Sans, sans-serif" font-size="17.3" fill="#f0f0f0" stroke="#f0f0f0" stroke-width="0.35">1.20</text>
<path d="M889 290.74 L895.6 293.34 L889 295.94 Z" fill="#f0f0f0"/>
<text x="896.6" y="299.54" font-family="DejaVu Sans Condensed, DejaVu Sans, sans-serif" font-size="17.3" fill="#f0f0f0" stroke="#f0f0f0" stroke-width="0.35">1.00</text>
<path d="M889 334.75 L895.6 337.35 L889 339.95 Z" fill="#f0f0f0"/>
<text x="896.6" y="343.55" font-family="DejaVu Sans Condensed, DejaVu Sans, sans-serif" font-size="17.3" fill="#f0f0f0" stroke="#f0f0f0" stroke-width="0.35">0.80</text>
<path d="M889 378.76 L895.6 381.36 L889 383.96 Z" fill="#f0f0f0"/>
<text x="896.6" y="387.56" font-family="DejaVu Sans Condensed, DejaVu Sans, sans-serif" font-size="17.3" fill="#f0f0f0" stroke="#f0f0f0" stroke-width="0.35">0.60</text>
<path d="M889 422.77 L895.6 425.37 L889 427.97 Z" fill="#f0f0f0"/>
<text x="896.6" y="431.57" font-family="DejaVu Sans Condensed, DejaVu Sans, sans-serif" font-size="17.3" fill="#f0f0f0" stroke="#f0f0f0" stroke-width="0.35">0.40</text>
<path d="M889 466.78 L895.6 469.38 L889 471.98 Z" fill="#f0f0f0"/>
<text x="896.6" y="472.28" font-family="DejaVu Sans Condensed, DejaVu Sans, sans-serif" font-size="17.3" fill="#f0f0f0" stroke="#f0f0f0" stroke-width="0.35">0.20</text>
<rect x="889" y="94.70" width="3.2" height="1.2" fill="#e0e0e0"/>
<rect x="889" y="138.71" width="3.2" height="1.2" fill="#e0e0e0"/>
<rect x="889" y="182.72" width="3.2" height="1.2" fill="#e0e0e0"/>
<rect x="889" y="226.72" width="3.2" height="1.2" fill="#e0e0e0"/>
<rect x="889" y="270.73" width="3.2" height="1.2" fill="#e0e0e0"/>
<rect x="889" y="314.74" width="3.2" height="1.2" fill="#e0e0e0"/>
<rect x="889" y="358.75" width="3.2" height="1.2" fill="#e0e0e0"/>
<rect x="889" y="402.76" width="3.2" height="1.2" fill="#e0e0e0"/>
<rect x="889" y="446.77" width="3.2" height="1.2" fill="#e0e0e0"/>
<rect x="54.20" y="476.5" width="1.2" height="3.5" fill="#e0e0e0"/>
<rect x="111.30" y="476.5" width="1.2" height="3.5" fill="#e0e0e0"/>
<rect x="165.70" y="476.5" width="1.2" height="3.5" fill="#e0e0e0"/>
<rect x="225.00" y="476.5" width="1.2" height="3.5" fill="#e0e0e0"/>
<rect x="283.90" y="476.5" width="1.2" height="3.5" fill="#e0e0e0"/>
<rect x="342.00" y="476.5" width="1.2" height="3.5" fill="#e0e0e0"/>
<rect x="398.40" y="476.5" width="1.2" height="3.5" fill="#e0e0e0"/>
<rect x="455.40" y="476.5" width="1.2" height="3.5" fill="#e0e0e0"/>
<rect x="506.90" y="476.5" width="1.2" height="3.5" fill="#e0e0e0"/>
<rect x="565.80" y="476.5" width="1.2" height="3.5" fill="#e0e0e0"/>
<rect x="616.80" y="476.5" width="1.2" height="3.5" fill="#e0e0e0"/>
<rect x="668.60" y="476.5" width="1.2" height="3.5" fill="#e0e0e0"/>
<rect x="731.30" y="476.5" width="1.2" height="3.5" fill="#e0e0e0"/>
<rect x="788.30" y="476.5" width="1.2" height="3.5" fill="#e0e0e0"/>
<rect x="842.10" y="476.5" width="1.2" height="3.5" fill="#e0e0e0"/>
<text x="26.2" y="493.6" text-anchor="middle" font-family="DejaVu Sans Condensed, DejaVu Sans, sans-serif" font-size="17" fill="#f0f0f0" stroke="#f0f0f0" stroke-width="0.3">Mar</text>
<text x="196.8" y="493.6" text-anchor="middle" font-family="DejaVu Sans Condensed, DejaVu Sans, sans-serif" font-size="17" fill="#f0f0f0" stroke="#f0f0f0" stroke-width="0.3" textLength="27.2" lengthAdjust="spacingAndGlyphs">Jun</text>
<text x="370.2" y="493.6" text-anchor="middle" font-family="DejaVu Sans Condensed, DejaVu Sans, sans-serif" font-size="17" fill="#f0f0f0" stroke="#f0f0f0" stroke-width="0.3">Sep</text>
<text x="536.4" y="493.6" text-anchor="middle" font-family="DejaVu Sans Condensed, DejaVu Sans, sans-serif" font-size="17" fill="#f0f0f0" stroke="#f0f0f0" stroke-width="0.3">Dec</text>
<text x="700.4" y="493.6" text-anchor="middle" font-family="DejaVu Sans Condensed, DejaVu Sans, sans-serif" font-size="17" fill="#f0f0f0" stroke="#f0f0f0" stroke-width="0.3">Mar</text>
<text x="873.7" y="493.6" text-anchor="middle" font-family="DejaVu Sans Condensed, DejaVu Sans, sans-serif" font-size="17" fill="#f0f0f0" stroke="#f0f0f0" stroke-width="0.3" textLength="27.2" lengthAdjust="spacingAndGlyphs">Jun</text>
<text x="281.5" y="513.7" text-anchor="middle" font-family="DejaVu Sans Condensed, DejaVu Sans, sans-serif" font-size="17" fill="#f0f0f0" stroke="#f0f0f0" stroke-width="0.3">2020</text>
<text x="727.2" y="513.7" text-anchor="middle" font-family="DejaVu Sans Condensed, DejaVu Sans, sans-serif" font-size="17" fill="#f0f0f0" stroke="#f0f0f0" stroke-width="0.3">2021</text>
<rect x="565.9" y="497" width="1" height="20" fill="#bdbdbd"/>
<text transform="translate(939.2,247.6) rotate(90)" x="0" y="0" font-family="DejaVu Sans, Liberation Sans, sans-serif" font-size="19.5" fill="#f0f0f0" stroke="#f0f0f0" stroke-width="0.3">Percent</text>
<line x1="869.6" y1="275.5" x2="869.6" y2="224.5" stroke="#dcdc96" stroke-width="2.8" stroke-dasharray="2 1.2"/>
<path d="M864.2 227.6 L869.6 219.2 L875.4 228.4" fill="none" stroke="#dcdc96" stroke-width="2.4" stroke-dasharray="2.2 1.4"/>
<ellipse cx="869.6" cy="219.8" rx="1.6" ry="2.4" fill="#d4dc70"/>
<rect x="5" y="72.4" width="9.6" height="9.6" fill="#e8e8e8"/>
<text x="-0.36" y="26.7" font-family="DejaVu Sans Condensed, DejaVu Sans, sans-serif" font-size="29.5" font-weight="700" fill="#ffffff" textLength="147.03" lengthAdjust="spacingAndGlyphs">Comeback</text>
<text x="159.15" y="26.7" font-family="DejaVu Sans Condensed, DejaVu Sans, sans-serif" font-size="29.5" font-weight="700" fill="#ffffff" textLength="49.86" lengthAdjust="spacingAndGlyphs">Kid</text>
<text x="-1.60" y="52.3" font-family="DejaVu Sans, DejaVu Sans, sans-serif" font-size="20" font-weight="700" fill="#ffffff" textLength="90.40" lengthAdjust="spacingAndGlyphs">10-year</text>
<text x="99.40" y="52.3" font-family="DejaVu Sans, DejaVu Sans, sans-serif" font-size="20" font-weight="700" fill="#ffffff" textLength="96.02" lengthAdjust="spacingAndGlyphs">Treasury</text>
<text x="207.20" y="52.3" font-family="DejaVu Sans, DejaVu Sans, sans-serif" font-size="20" font-weight="700" fill="#ffffff" textLength="64.23" lengthAdjust="spacingAndGlyphs">yields</text>
<text x="279.01" y="52.3" font-family="DejaVu Sans, DejaVu Sans, sans-serif" font-size="20" font-weight="700" fill="#ffffff" textLength="54.02" lengthAdjust="spacingAndGlyphs">have</text>
<text x="342.60" y="52.3" font-family="DejaVu Sans, DejaVu Sans, sans-serif" font-size="20" font-weight="700" fill="#ffffff" textLength="61.46" lengthAdjust="spacingAndGlyphs">fallen</text>
<text x="413.20" y="52.3" font-family="DejaVu Sans, DejaVu Sans, sans-serif" font-size="20" font-weight="700" fill="#ffffff" textLength="21.19" lengthAdjust="spacingAndGlyphs">to</text>
<text x="444.20" y="52.3" font-family="DejaVu Sans, DejaVu Sans, sans-serif" font-size="20" font-weight="700" fill="#ffffff" textLength="40.34" lengthAdjust="spacingAndGlyphs">test</text>
<text x="492.10" y="52.3" font-family="DejaVu Sans, DejaVu Sans, sans-serif" font-size="20" font-weight="700" fill="#ffffff" textLength="39.38" lengthAdjust="spacingAndGlyphs">key</text>
<text x="541.60" y="52.3" font-family="DejaVu Sans, DejaVu Sans, sans-serif" font-size="20" font-weight="700" fill="#ffffff" textLength="98.17" lengthAdjust="spacingAndGlyphs">technical</text>
<text x="647.89" y="52.3" font-family="DejaVu Sans, DejaVu Sans, sans-serif" font-size="20" font-weight="700" fill="#ffffff" textLength="111.48" lengthAdjust="spacingAndGlyphs">resistance</text>
<text x="17.34" y="82.6" font-family="DejaVu Sans, DejaVu Sans, sans-serif" font-size="13.75" font-weight="400" fill="#e4e4e4" textLength="26.44" lengthAdjust="spacingAndGlyphs">U.S.</text>
<text x="47.19" y="82.6" font-family="DejaVu Sans, DejaVu Sans, sans-serif" font-size="13.75" font-weight="400" fill="#e4e4e4" textLength="53.22" lengthAdjust="spacingAndGlyphs">10-year</text>
<text x="105.50" y="82.6" font-family="DejaVu Sans, DejaVu Sans, sans-serif" font-size="13.75" font-weight="400" fill="#e4e4e4" textLength="57.39" lengthAdjust="spacingAndGlyphs">Treasury</text>
<text x="167.91" y="82.6" font-family="DejaVu Sans, DejaVu Sans, sans-serif" font-size="13.75" font-weight="400" fill="#e4e4e4" textLength="32.76" lengthAdjust="spacingAndGlyphs">yield</text>
<text x="1.90" y="532.5" font-family="DejaVu Sans, DejaVu Sans, sans-serif" font-size="14" font-weight="700" fill="#ffffff" textLength="60.18" lengthAdjust="spacingAndGlyphs">Source:</text>
<text x="67.93" y="532.5" font-family="DejaVu Sans, DejaVu Sans, sans-serif" font-size="14" font-weight="700" fill="#ffffff" textLength="83.40" lengthAdjust="spacingAndGlyphs">Bloomberg</text>
</svg>
</body></html>
